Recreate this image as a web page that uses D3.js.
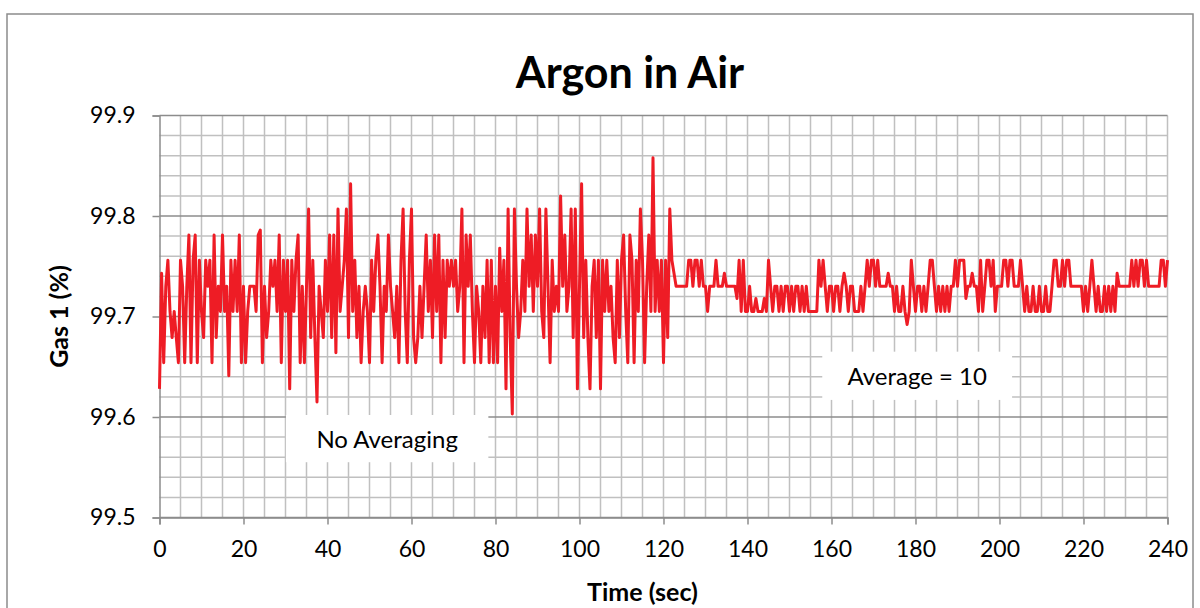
<!DOCTYPE html>
<html>
<head>
<meta charset="utf-8">
<script src="https://cdn.jsdelivr.net/npm/d3@7"></script>
<style>
  html, body { margin: 0; padding: 0; background: #ffffff; }
  svg { display: block; }
  text { font-family: "Lato", "Open Sans", sans-serif; fill: #000; }
</style>
</head>
<body>
<svg id="chart" width="1200" height="608"></svg>
<script>
// ---------------- DATA ----------------
const chartTitle = "Argon in Air";
const xAxisTitle = "Time (sec)";
const yAxisTitle = "Gas 1 (%)";
const xTickValues = [0, 20, 40, 60, 80, 100, 120, 140, 160, 180, 200, 220, 240];
const yTickValues = [99.5, 99.6, 99.7, 99.8, 99.9];
const yTickLabels = ["99.5", "99.6", "99.7", "99.8", "99.9"];
const xDomain = [0, 240];
const yDomain = [99.5, 99.9];
const sampleStep = 0.5;          // seconds between readings
const noAveragingStart = 0;      // time of first un-averaged reading
const averagingStart = 123;      // time of first averaged reading
const annotationLabels = ["No Averaging", "Average = 10"];

// Gas 1 (%) readings with no averaging, 0 .. 122.5 s (one line = 5 s)
const noAveragingValues = [
  99.628, 99.743, 99.654, 99.730, 99.756, 99.705, 99.679, 99.705, 99.679, 99.654,
  99.756, 99.730, 99.654, 99.730, 99.781, 99.654, 99.756, 99.781, 99.654, 99.756,
  99.705, 99.679, 99.756, 99.730, 99.756, 99.654, 99.781, 99.679, 99.730, 99.705,
  99.781, 99.705, 99.730, 99.641, 99.756, 99.705, 99.756, 99.705, 99.781, 99.654,
  99.730, 99.654, 99.705, 99.730, 99.730, 99.730, 99.705, 99.781, 99.786, 99.654,
  99.730, 99.679, 99.705, 99.756, 99.730, 99.756, 99.705, 99.781, 99.654, 99.756,
  99.705, 99.756, 99.628, 99.756, 99.705, 99.756, 99.781, 99.654, 99.730, 99.654,
  99.730, 99.807, 99.679, 99.756, 99.679, 99.615, 99.730, 99.705, 99.679, 99.756,
  99.705, 99.781, 99.679, 99.781, 99.664, 99.807, 99.705, 99.730, 99.756, 99.807,
  99.679, 99.832, 99.705, 99.756, 99.679, 99.730, 99.654, 99.705, 99.730, 99.705,
  99.654, 99.756, 99.705, 99.756, 99.781, 99.730, 99.654, 99.730, 99.705, 99.781,
  99.730, 99.705, 99.679, 99.730, 99.654, 99.756, 99.807, 99.705, 99.654, 99.756,
  99.807, 99.679, 99.654, 99.679, 99.730, 99.679, 99.730, 99.781, 99.705, 99.756,
  99.679, 99.781, 99.705, 99.781, 99.654, 99.756, 99.679, 99.756, 99.730, 99.756,
  99.730, 99.756, 99.705, 99.730, 99.807, 99.654, 99.781, 99.730, 99.781, 99.705,
  99.654, 99.730, 99.705, 99.654, 99.730, 99.679, 99.756, 99.654, 99.756, 99.654,
  99.730, 99.654, 99.768, 99.705, 99.756, 99.628, 99.807, 99.679, 99.603, 99.807,
  99.730, 99.679, 99.705, 99.756, 99.705, 99.807, 99.730, 99.781, 99.705, 99.781,
  99.730, 99.807, 99.705, 99.679, 99.807, 99.730, 99.654, 99.756, 99.705, 99.730,
  99.705, 99.820, 99.730, 99.781, 99.705, 99.730, 99.807, 99.679, 99.807, 99.628,
  99.730, 99.832, 99.679, 99.756, 99.679, 99.628, 99.730, 99.756, 99.679, 99.756,
  99.628, 99.756, 99.705, 99.756, 99.705, 99.730, 99.679, 99.654, 99.756, 99.679,
  99.756, 99.781, 99.705, 99.654, 99.781, 99.756, 99.654, 99.756, 99.705, 99.807,
  99.756, 99.654, 99.730, 99.781, 99.705, 99.858, 99.705, 99.756, 99.705, 99.756,
  99.654, 99.756, 99.679, 99.807, 99.756, 99.743
];

// Gas 1 (%) readings with averaging = 10, 123 .. 240 s (one line = 5 s)
const averagedValues = [
  99.730, 99.730, 99.730, 99.730, 99.730, 99.730, 99.756, 99.756, 99.730, 99.756,
  99.756, 99.730, 99.756, 99.730, 99.730, 99.705, 99.730, 99.730, 99.730, 99.756,
  99.730, 99.730, 99.730, 99.743, 99.730, 99.730, 99.730, 99.730, 99.730, 99.718,
  99.756, 99.705, 99.756, 99.705, 99.705, 99.730, 99.705, 99.705, 99.718, 99.705,
  99.705, 99.705, 99.718, 99.705, 99.756, 99.730, 99.705, 99.730, 99.730, 99.705,
  99.730, 99.705, 99.730, 99.730, 99.705, 99.730, 99.705, 99.730, 99.730, 99.705,
  99.730, 99.705, 99.730, 99.705, 99.705, 99.705, 99.705, 99.705, 99.756, 99.730,
  99.756, 99.730, 99.705, 99.730, 99.730, 99.705, 99.730, 99.730, 99.705, 99.730,
  99.743, 99.730, 99.705, 99.730, 99.730, 99.705, 99.705, 99.705, 99.730, 99.705,
  99.730, 99.756, 99.730, 99.756, 99.756, 99.730, 99.756, 99.730, 99.730, 99.730,
  99.730, 99.743, 99.730, 99.730, 99.705, 99.730, 99.705, 99.705, 99.730, 99.705,
  99.692, 99.705, 99.756, 99.730, 99.705, 99.730, 99.730, 99.705, 99.730, 99.705,
  99.730, 99.756, 99.756, 99.730, 99.705, 99.730, 99.705, 99.730, 99.705, 99.730,
  99.705, 99.730, 99.730, 99.756, 99.730, 99.756, 99.756, 99.756, 99.718, 99.730,
  99.730, 99.743, 99.730, 99.730, 99.705, 99.756, 99.705, 99.730, 99.756, 99.756,
  99.730, 99.756, 99.705, 99.730, 99.730, 99.730, 99.756, 99.756, 99.730, 99.756,
  99.756, 99.730, 99.730, 99.730, 99.756, 99.730, 99.705, 99.730, 99.705, 99.705,
  99.730, 99.705, 99.705, 99.730, 99.705, 99.705, 99.730, 99.705, 99.705, 99.730,
  99.756, 99.756, 99.730, 99.730, 99.756, 99.730, 99.756, 99.756, 99.730, 99.730,
  99.730, 99.730, 99.730, 99.730, 99.705, 99.730, 99.705, 99.730, 99.756, 99.730,
  99.705, 99.730, 99.705, 99.705, 99.730, 99.705, 99.730, 99.705, 99.730, 99.705,
  99.743, 99.730, 99.730, 99.730, 99.730, 99.730, 99.730, 99.756, 99.730, 99.756,
  99.730, 99.756, 99.756, 99.730, 99.756, 99.730, 99.730, 99.730, 99.730, 99.730,
  99.730, 99.756, 99.756, 99.730, 99.756
];

// ---------------- DRAWING ----------------
const svg = d3.select("#chart");
const plot = { left: 159.5, right: 1167.5, top: 115.5, bottom: 517.5 };

const x = d3.scaleLinear().domain(xDomain).range([plot.left, plot.right]);
const y = d3.scaleLinear().domain(yDomain).range([plot.bottom, plot.top]);

const points = noAveragingValues.map((v, i) => ({ t: noAveragingStart + i * sampleStep, v }))
  .concat(averagedValues.map((v, i) => ({ t: averagingStart + i * sampleStep, v })));

// chart border
svg.append("rect")
  .attr("x", 7).attr("y", 14).attr("width", 1186).attr("height", 640)
  .attr("fill", "#fff").attr("stroke", "#8c8c8c").attr("stroke-width", 1.5);

// minor gridlines
const xMinor = d3.range(5, 241, 5);
const yMinor = d3.range(0, 21).map(k => 99.5 + k * 0.02).filter((v, k) => k % 5 !== 0);

const grid = svg.append("g");
grid.selectAll(".vx").data(xMinor).join("line")
  .attr("x1", d => x(d)).attr("x2", d => x(d))
  .attr("y1", plot.top).attr("y2", plot.bottom)
  .attr("stroke", "#c0c0c0").attr("stroke-width", 1.5);
grid.selectAll(".hy").data(yMinor).join("line")
  .attr("x1", plot.left).attr("x2", plot.right)
  .attr("y1", d => y(d)).attr("y2", d => y(d))
  .attr("stroke", "#c0c0c0").attr("stroke-width", 1.5);
// major horizontal gridlines
grid.selectAll(".hmaj").data(yTickValues).join("line")
  .attr("x1", plot.left).attr("x2", plot.right)
  .attr("y1", d => y(d)).attr("y2", d => y(d))
  .attr("stroke", "#8c8c8c").attr("stroke-width", 1.5);

// annotation boxes (white, hide grid behind)
const annotations = [
  { label: annotationLabels[0], x0: 30.1, x1: 78.3, y0: 99.602, y1: 99.555 },
  { label: annotationLabels[1], x0: 157.8, x1: 203.0, y0: 99.665, y1: 99.617 }
];

// axes
const xAxis = d3.axisBottom(x).tickValues(xTickValues).tickSize(7).tickPadding(16)
  .tickFormat(d3.format("d"));
const gx = svg.append("g").attr("transform", `translate(0,${plot.bottom})`).call(xAxis);
gx.select(".domain").attr("stroke", "#8c8c8c").attr("stroke-width", 1.5);
gx.selectAll(".tick line").attr("stroke", "#8c8c8c").attr("stroke-width", 1.5);
gx.selectAll(".tick text").attr("font-size", 23).attr("font-family", "Lato").attr("fill", "#000");

const yAxis = d3.axisLeft(y).tickValues(yTickValues).tickSize(7).tickPadding(17)
  .tickFormat((d, i) => yTickLabels[i]);
const gy = svg.append("g").attr("transform", `translate(${plot.left},0)`).call(yAxis);
gy.select(".domain").attr("stroke", "#8c8c8c").attr("stroke-width", 1.5);
gy.selectAll(".tick line").attr("stroke", "#8c8c8c").attr("stroke-width", 1.5);
gy.selectAll(".tick text").attr("font-size", 23).attr("font-family", "Lato").attr("fill", "#000");

// data line
const line = d3.line().x(d => x(d.t)).y(d => y(d.v));
svg.append("path").datum(points)
  .attr("d", line)
  .attr("fill", "none")
  .attr("stroke", "#ee1c25")
  .attr("stroke-width", 3)
  .attr("stroke-linejoin", "round");

// annotation boxes and labels
const ann = svg.append("g").selectAll("g").data(annotations).join("g");
ann.append("rect")
  .attr("x", d => x(d.x0)).attr("y", d => y(d.y0))
  .attr("width", d => x(d.x1) - x(d.x0)).attr("height", d => y(d.y1) - y(d.y0))
  .attr("fill", "#ffffff");
ann.append("text")
  .attr("x", d => (x(d.x0) + x(d.x1)) / 2)
  .attr("y", d => (y(d.y0) + y(d.y1)) / 2)
  .attr("text-anchor", "middle").attr("dominant-baseline", "central")
  .attr("font-size", 24)
  .text(d => d.label);

// title
svg.append("text")
  .attr("x", 630).attr("y", 88)
  .attr("text-anchor", "middle")
  .attr("font-size", 43).attr("font-weight", "bold")
  .text(chartTitle);

// axis titles
svg.append("text")
  .attr("x", x(115)).attr("y", 601)
  .attr("text-anchor", "middle")
  .attr("font-size", 25).attr("font-weight", "bold")
  .text(xAxisTitle);

svg.append("text")
  .attr("transform", `translate(68,${(plot.top + plot.bottom) / 2}) rotate(-90)`)
  .attr("text-anchor", "middle")
  .attr("font-size", 25).attr("font-weight", "bold")
  .text(yAxisTitle);
</script>
</body>
</html>
